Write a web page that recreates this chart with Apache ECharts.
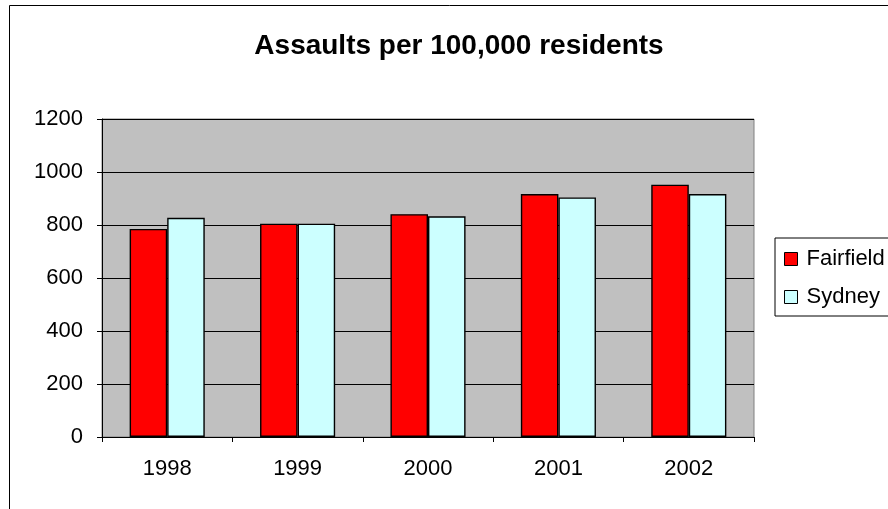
<!DOCTYPE html>
<html>
<head>
<meta charset="utf-8">
<script src="https://cdn.jsdelivr.net/npm/echarts@6/dist/echarts.min.js"></script>
<style>
  html, body { margin: 0; padding: 0; background: #fff; }
  #chart { width: 888px; height: 509px; }
</style>
</head>
<body>
<div id="chart"></div>
<script>
// Assault rates per 100,000 residents, Fairfield vs Sydney
const years = ['1998', '1999', '2000', '2001', '2002'];
const fairfield = [785, 805, 841, 917, 952];
const sydney = [827, 805, 833, 904, 917];
const yTicks = { min: 0, max: 1200, interval: 200 };

const font = 'Liberation Sans, Arial, sans-serif';
const chart = echarts.init(document.getElementById('chart'), null, { renderer: 'canvas' });

chart.setOption({
  animation: false,
  backgroundColor: '#ffffff',
  title: {
    text: 'Assaults per 100,000 residents',
    left: 454,
    textAlign: 'center',
    top: 27,
    textStyle: { fontFamily: font, fontSize: 28, fontWeight: 'bold', color: '#000' }
  },
  graphic: [{
    type: 'rect',
    z: -1,
    shape: { x: 9.5, y: 5.5, width: 1000, height: 1000 },
    style: { fill: 'none', stroke: '#000', lineWidth: 1 }
  }],
  legend: {
    orient: 'vertical',
    left: 775,
    top: 238,
    padding: [10, 40, 8, 9],
    itemGap: 16,
    itemWidth: 13,
    itemHeight: 13,
    borderColor: '#000',
    borderWidth: 1,
    icon: 'rect',
    itemStyle: { borderColor: '#000', borderWidth: 1 },
    textStyle: { fontFamily: font, fontSize: 22, color: '#000', padding: [0, 0, 0, 4] },
    data: ['Fairfield', 'Sydney']
  },
  grid: {
    left: 102,
    right: 134,
    top: 119,
    bottom: 72,
    show: true,
    backgroundColor: '#c0c0c0',
    borderColor: '#808080',
    borderWidth: 1
  },
  xAxis: {
    type: 'category',
    data: years,
    boundaryGap: true,
    axisLine: { lineStyle: { color: '#000', width: 1 } },
    axisTick: { show: true, length: 5, alignWithLabel: false, lineStyle: { color: '#000' } },
    axisLabel: { margin: 21, fontFamily: font, fontSize: 22, color: '#000' },
    splitLine: { show: false }
  },
  yAxis: {
    type: 'value',
    min: yTicks.min,
    max: yTicks.max,
    interval: yTicks.interval,
    axisLine: { show: true, lineStyle: { color: '#000', width: 1 } },
    axisTick: { show: true, length: 5, lineStyle: { color: '#000' } },
    axisLabel: {
      margin: 19, fontFamily: font, fontSize: 22, color: '#000',
      formatter: (v) => String(v)
    },
    splitLine: { show: true, lineStyle: { color: '#000', width: 1 } }
  },
  series: [
    {
      name: 'Fairfield',
      type: 'bar',
      data: fairfield,
      barWidth: '28.8%',
      barGap: '0%',
      itemStyle: { color: '#ff0000', borderColor: '#000', borderWidth: 1.4 }
    },
    {
      name: 'Sydney',
      type: 'bar',
      data: sydney,
      barWidth: '28.8%',
      barGap: '0%',
      itemStyle: { color: '#ccffff', borderColor: '#000', borderWidth: 1.4 }
    }
  ]
});
</script>
</body>
</html>
